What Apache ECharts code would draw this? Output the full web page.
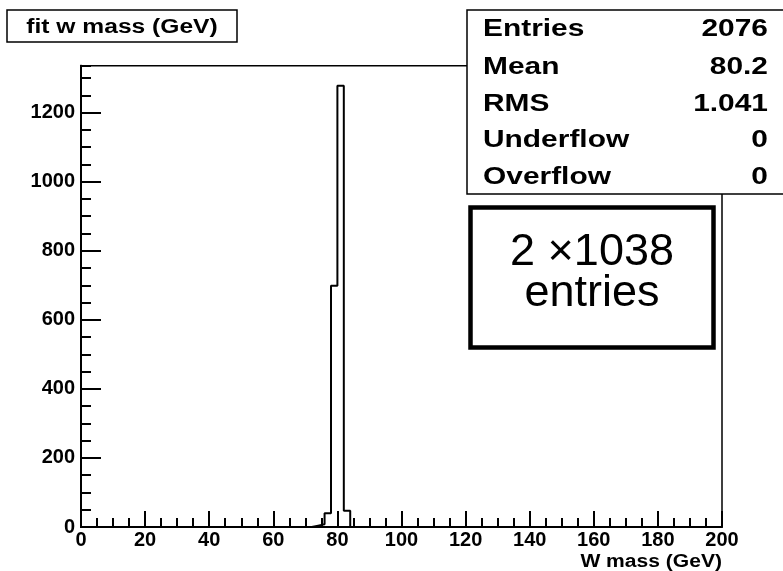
<!DOCTYPE html>
<html>
<head>
<meta charset="utf-8">
<script src="https://cdn.jsdelivr.net/npm/echarts@6/dist/echarts.min.js"></script>
<style>html,body{margin:0;padding:0;background:#fff;}#c{width:783px;height:571px;}</style>
</head>
<body>
<div id="c"></div>
<script>
// Histogram: 100 bins of 2 GeV from 0 to 200 (counts per bin)
const binWidth = 2;
const xRange = [0, 200];
const counts = [
  0,0,0,0,0,0,0,0,0,0,
  0,0,0,0,0,0,0,0,0,0,
  0,0,0,0,0,0,0,0,0,0,
  0,0,0,0,0,0,4,8,40,699,
  1278,47,0,0,0,0,0,0,0,0,
  0,0,0,0,0,0,0,0,0,0,
  0,0,0,0,0,0,0,0,0,0,
  0,0,0,0,0,0,0,0,0,0,
  0,0,0,0,0,0,0,0,0,0,
  0,0,0,0,0,0,0,0,0,0
];
const yMax = 1336;
const titleText = 'fit w mass (GeV)';
const xTitle = 'W mass (GeV)';
const statNames = ['Entries', 'Mean', 'RMS', 'Underflow', 'Overflow'];
const statValues = ['2076', '80.2', '1.041', '0', '0'];
const noteLines = ['2 \u00d71038', 'entries'];

const FF = '"Liberation Sans", Arial, Helvetica, sans-serif';

const histData = counts.map((c, i) => [xRange[0] + i * binWidth, c]);
histData.push([xRange[1], counts[counts.length - 1]]);

const chart = echarts.init(document.getElementById('c'), null, {renderer: 'canvas'});

const statRowY = [30, 68, 105, 141, 178];
const graphics = [
  // title box
  {type: 'rect', shape: {x: 7, y: 10, width: 230, height: 32}, style: {fill: '#fff', stroke: '#000', lineWidth: 1.5}, z: 100},
  {type: 'text', x: 122, y: 27, scaleX: 1.23, style: {text: titleText, font: 'bold 20px ' + FF, fill: '#000', textAlign: 'center', verticalAlign: 'middle'}, z: 101},
  // stats box
  {type: 'rect', shape: {x: 467, y: 10, width: 340, height: 184}, style: {fill: '#fff', stroke: '#000', lineWidth: 1.5}, z: 100},
  // annotation box
  {type: 'rect', shape: {x: 470.5, y: 207.5, width: 243, height: 140}, style: {fill: '#fff', stroke: '#000', lineWidth: 4.5}, z: 100},
  {type: 'text', x: 592, y: 253, style: {text: noteLines[0], font: '45px ' + FF, fill: '#000', textAlign: 'center', verticalAlign: 'middle'}, z: 101},
  {type: 'text', x: 592, y: 294, style: {text: noteLines[1], font: '45px ' + FF, fill: '#000', textAlign: 'center', verticalAlign: 'middle'}, z: 101},
  // x axis title
  {type: 'text', x: 722, y: 562, scaleX: 1.17, style: {text: xTitle, font: 'bold 18px ' + FF, fill: '#000', textAlign: 'right', verticalAlign: 'middle'}, z: 101}
];
statNames.forEach((n, i) => {
  graphics.push({type: 'text', x: 483, y: statRowY[i], scaleX: 1.3, style: {text: n, font: 'bold 23px ' + FF, fill: '#000', textAlign: 'left', verticalAlign: 'middle'}, z: 101});
  graphics.push({type: 'text', x: 768, y: statRowY[i], scaleX: 1.3, style: {text: statValues[i], font: 'bold 23px ' + FF, fill: '#000', textAlign: 'right', verticalAlign: 'middle'}, z: 101});
});

chart.setOption({
  animation: false,
  backgroundColor: '#fff',
  grid: {left: 81, right: 61, top: 65.7, bottom: 44, show: true, borderColor: '#000', borderWidth: 1.5, backgroundColor: 'transparent', containLabel: false},
  xAxis: {
    type: 'value', min: xRange[0], max: xRange[1], interval: 20,
    axisLine: {show: true, onZero: false, lineStyle: {color: '#000', width: 2}},
    axisTick: {show: true, inside: true, length: 16, lineStyle: {color: '#000', width: 2}},
    minorTick: {show: true, splitNumber: 4, length: 9, lineStyle: {color: '#000', width: 2}},
    axisLabel: {show: true, margin: 3, color: '#000', fontFamily: FF, fontWeight: 'bold', fontSize: 20, formatter: v => String(v)},
    splitLine: {show: false}, minorSplitLine: {show: false}
  },
  yAxis: [
    {
      type: 'value', min: 0, max: yMax, interval: 50, position: 'left',
      axisLine: {show: true, onZero: false, lineStyle: {color: '#000', width: 2}},
      axisTick: {show: true, inside: true, length: 10, lineStyle: {color: '#000', width: 2}},
      axisLabel: {show: false},
      splitLine: {show: false}
    },
    {
      type: 'value', min: 0, max: yMax, interval: 200, position: 'left', offset: 0,
      axisLine: {show: true, onZero: false, lineStyle: {color: '#000', width: 2}},
      axisTick: {show: true, inside: true, length: 20, lineStyle: {color: '#000', width: 2}},
      axisLabel: {show: true, margin: 6, showMaxLabel: false, color: '#000', fontFamily: FF, fontWeight: 'bold', fontSize: 20, formatter: v => String(v)},
      splitLine: {show: false}
    }
  ],
  series: [{
    type: 'line', step: 'end', data: histData, yAxisIndex: 0,
    showSymbol: false, symbol: 'none', clip: true,
    lineStyle: {color: '#000', width: 2}, z: 5
  }],
  graphic: graphics
});
</script>
</body>
</html>
